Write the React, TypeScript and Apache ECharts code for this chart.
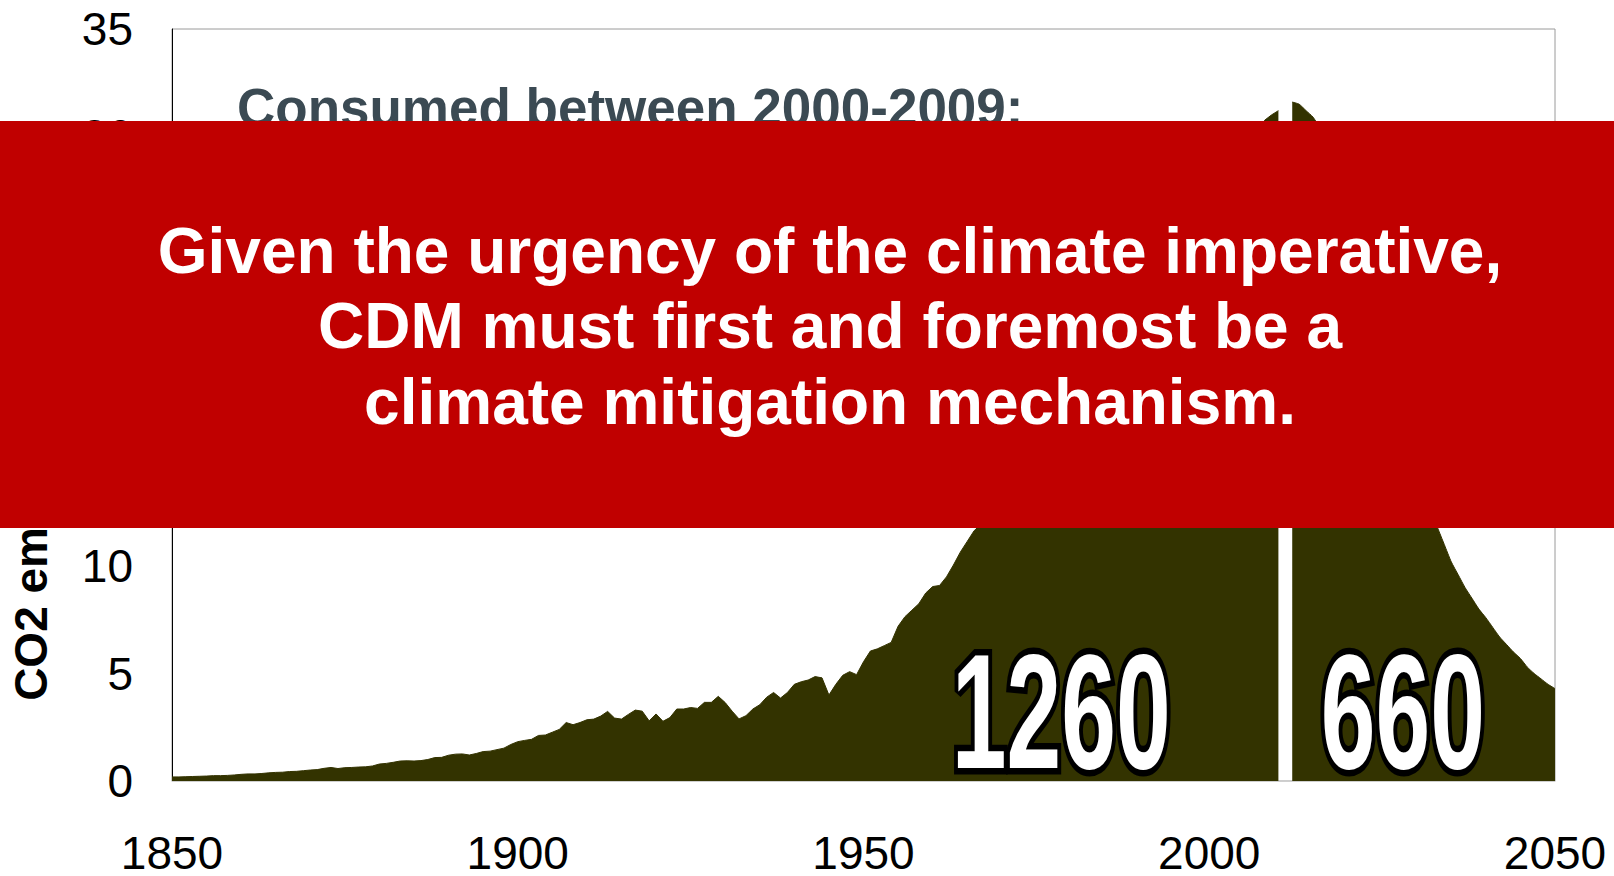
import React, { useEffect, useRef } from "react";
import * as echarts from "echarts";

// Historical emissions (GtCO2/yr), yearly from histStart
const histStart = 1850;
const histValues = [
  0.19, 0.19, 0.2, 0.21, 0.22, 0.23, 0.25, 0.25, 0.26, 0.28,
  0.31, 0.33, 0.33, 0.35, 0.38, 0.4, 0.41, 0.44, 0.45, 0.48,
  0.51, 0.53, 0.59, 0.63, 0.58, 0.62, 0.63, 0.65, 0.66, 0.7,
  0.79, 0.82, 0.87, 0.93, 0.94, 0.93, 0.95, 1.0, 1.09, 1.1,
  1.2, 1.25, 1.26, 1.21, 1.28, 1.37, 1.39, 1.46, 1.53, 1.7,
  1.83, 1.89, 1.94, 2.12, 2.14, 2.27, 2.4, 2.72, 2.62, 2.72,
  2.85, 2.88, 3.02, 3.24, 2.93, 2.88, 3.1, 3.3, 3.25, 2.8,
  3.12, 2.78, 2.95, 3.35, 3.35, 3.42, 3.38, 3.66, 3.66, 3.94,
  3.65, 3.25, 2.89, 3.04, 3.35, 3.55, 3.9, 4.12, 3.86, 4.12,
  4.5, 4.62, 4.7, 4.86, 4.8, 4.0, 4.5, 4.92, 5.09, 4.95,
  5.55, 6.05, 6.15, 6.3, 6.45, 7.2, 7.65, 7.95, 8.25, 8.75,
  9.05, 9.1, 9.5, 10.05, 10.65, 11.15, 11.65, 11.95, 12.55, 13.3,
  14.2, 14.75, 15.35, 16.15, 16.2, 16.1, 17.05, 17.6, 17.8, 18.8,
  18.6, 18.05, 17.9, 17.85, 18.5, 19.05, 19.6, 20.15, 20.9, 21.35,
  21.45, 21.75, 21.55, 21.55, 21.95, 22.4, 22.9, 23.3, 23.25, 23.15,
  23.7, 24.25, 24.5, 25.95, 27.3, 28.3, 29.3, 30.0, 30.75, 31.0,
  31.2,
];

// Future pathway (GtCO2/yr), yearly from futureStart
const futureStart = 2012;
const futureValues = [
  31.6, 31.5, 31.2, 30.9, 30.4, 29.8, 29.0, 28.1, 27.1,
  26.0, 24.8, 23.6, 22.3, 21.0, 19.7, 18.4, 17.1, 15.9, 14.7,
  13.6, 12.6, 11.8, 11.0, 10.2, 9.6, 9.0, 8.5, 8.0, 7.6,
  7.15, 6.7, 6.35, 6.0, 5.7, 5.3, 5.0, 4.75, 4.5, 4.3,
];

// Axis ranges
const xMin = 1850;
const xMax = 2050;
const xStep = 50;
const yMin = 0;
const yMax = 35;
const yStep = 5;

// Budget labels and their anchor points (year, value)
const budgetLabels = ["1260", "660"];
const budgetYears = [1978.6, 2028.0];
const budgetValues = [3.25, 3.25];

const yAxisTitle = "CO2 emissions (GtCO2/yr)";
const consumedText = "Consumed between 2000-2009:";
const bannerLines = [
  "Given the urgency of the climate imperative,",
  "CDM must first and foremost be a",
  "climate mitigation mechanism.",
];

export default function App() {
  const ref = useRef<HTMLDivElement>(null);

  useEffect(() => {
    const chart = echarts.init(ref.current as HTMLDivElement, null, { renderer: "svg" });
    const font = "'Liberation Sans', Arial, Helvetica, sans-serif";
    const olive = "#333300";

    const hist = histValues.map((v, i) => [histStart + i, v]);
    const fut = futureValues.map((v, i) => [futureStart + i, v]);
    const labelData = budgetLabels.map((_, i) => [budgetYears[i], budgetValues[i]]);

    const bannerY = [250.6, 325.8, 401.8];

    chart.setOption({
      animation: false,
      grid: {
        left: 170,
        right: 59,
        top: 29,
        bottom: 91,
        show: true,
        borderColor: "#9a9a9a",
        borderWidth: 1,
        backgroundColor: "transparent",
      },
      xAxis: {
        type: "value",
        min: xMin,
        max: xMax,
        interval: xStep,
        axisLine: { show: true, lineStyle: { color: "#cfcfcf", width: 1 } },
        axisTick: { show: false },
        splitLine: { show: false },
        axisLabel: {
          fontSize: 46,
          color: "#000",
          fontFamily: font,
          margin: 49,
          formatter: (v: number) => String(v),
        },
      },
      yAxis: {
        type: "value",
        min: yMin,
        max: yMax,
        interval: yStep,
        axisLine: { show: true, lineStyle: { color: "#000", width: 1 } },
        axisTick: { show: false },
        splitLine: { show: false },
        axisLabel: { fontSize: 46, color: "#000", fontFamily: font, margin: 39 },
        name: yAxisTitle,
        nameLocation: "middle",
        nameRotate: 90,
        nameGap: 118,
        nameTextStyle: {
          fontSize: 46,
          fontWeight: "bold",
          color: "#000",
          fontFamily: font,
          padding: [0, 14, 0, 0],
        },
      },
      series: [
        {
          type: "line",
          data: hist,
          showSymbol: false,
          lineStyle: { color: olive, width: 1 },
          areaStyle: { color: olive, opacity: 1 },
          z: 2,
        },
        {
          type: "line",
          data: fut,
          smooth: 0.2,
          showSymbol: false,
          lineStyle: { color: olive, width: 1 },
          areaStyle: { color: olive, opacity: 1 },
          z: 2,
        },
        {
          type: "custom",
          data: labelData,
          z: 5,
          clip: false,
          renderItem: (params: any, api: any) => {
            const p = api.coord([api.value(0), api.value(1)]);
            return {
              type: "text",
              x: p[0],
              y: p[1],
              scaleX: 0.6,
              scaleY: 1,
              style: {
                text: budgetLabels[params.dataIndex],
                x: 0,
                y: 0,
                fontSize: 164,
                fontWeight: "bold",
                fontFamily: font,
                fill: "#ffffff",
                stroke: "#000000",
                lineWidth: 13,
                strokeFirst: true,
                align: "center",
                verticalAlign: "middle",
                textAlign: "center",
                textVerticalAlign: "middle",
              },
            };
          },
        },
      ],
      graphic: [
        {
          type: "text",
          x: 237,
          y: 107,
          z: 10,
          style: {
            text: consumedText,
            fontSize: 53,
            fontWeight: "bold",
            fontFamily: font,
            fill: "#3b4a53",
            align: "left",
            verticalAlign: "middle",
            textAlign: "left",
            textVerticalAlign: "middle",
          },
        },
        {
          type: "rect",
          z: 100,
          shape: { x: 0, y: 121, width: 1614, height: 407 },
          style: { fill: "#c00000" },
        },
        ...bannerLines.map((t, i) => ({
          type: "text",
          x: 830,
          y: bannerY[i],
          z: 101,
          style: {
            text: t,
            fontSize: 64,
            fontWeight: "bold",
            fontFamily: font,
            fill: "#ffffff",
            align: "center",
            verticalAlign: "middle",
            textAlign: "center",
            textVerticalAlign: "middle",
          },
        })),
      ],
    });

    return () => {
      chart.dispose();
    };
  }, []);

  return (
    <div
      ref={ref}
      style={{ position: "absolute", left: 0, top: 0, width: 1614, height: 876, background: "#fff" }}
    />
  );
}
